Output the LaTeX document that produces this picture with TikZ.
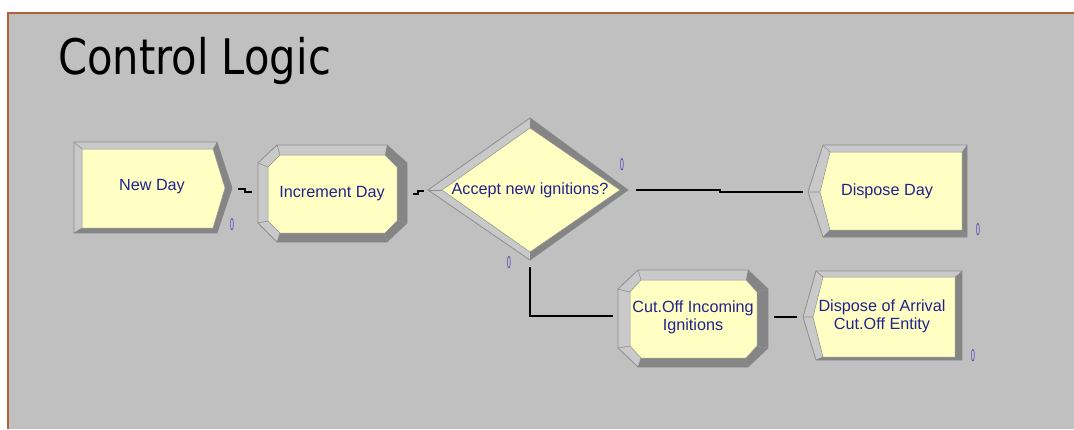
\documentclass[tikz,border=0pt]{standalone}
\usepackage{fontspec}
\setmainfont{Liberation Sans}
\newfontfamily\titlefont{DejaVu Sans}
\begin{document}
\definecolor{panel}{HTML}{C0C0C0}
\definecolor{frameline}{HTML}{B0603A}
\definecolor{face}{HTML}{FFFFC4}
\definecolor{bevdark}{HTML}{858585}
\definecolor{bevlight}{HTML}{C9C9C9}
\definecolor{bevline}{HTML}{8E8E8E}
\definecolor{labelblue}{HTML}{22228C}
\definecolor{countblue}{HTML}{4A3FB0}
\begin{tikzpicture}[x=1pt,y=-1pt,
  outer/.style={fill=bevlight,draw=bevline,line width=0.8pt,line join=miter},
  dark/.style={fill=bevdark},
  facefill/.style={fill=face,draw=bevline,line width=0.5pt},
  edge/.style={draw=bevline,line width=0.6pt},
  modtext/.style={text=labelblue,font=\fontsize{16.2}{18}\selectfont,align=center,inner sep=0pt},
  counter/.style={text=countblue,inner sep=0pt,font=\fontsize{17}{17}\selectfont},
  conn/.style={draw=black,line width=1.3pt}]
\useasboundingbox (0,0) rectangle (1074,429);
% panel
\fill[white] (0,0) rectangle (1074,429);
\fill[panel] (8,13) rectangle (1074,429);
\draw[frameline,line width=1.8pt] (8,429) -- (8,13) -- (1074,13);
\node[anchor=base west,inner sep=0pt,font=\titlefont\fontsize{49}{55}\selectfont] (title) at (58,74) {\scalebox{0.85}[1]{Control Logic}};

% ---- New Day (create) ----
\draw[outer] (74,142) -- (217,142) -- (232,188) -- (217,233) -- (74,233) -- cycle;
\fill[dark] (217,142) -- (232,188) -- (225,188) -- (213,149) -- cycle;
\fill[dark] (232,188) -- (217,233) -- (213,228) -- (225,188) -- cycle;
\fill[dark] (217,233) -- (74,233) -- (82,228) -- (213,228) -- cycle;
\draw[facefill] (82,149) -- (213,149) -- (225,188) -- (213,228) -- (82,228) -- cycle;
\draw[edge] (74,142) -- (82,149) (74,233) -- (82,228);
\node[modtext] (newday) at (152,187) {New Day};
\node[counter] (newday-n) at (232,225) {\scalebox{0.4}[1]{0}};
\coordinate (newday-exit) at (238,189);

% ---- Increment Day (assign) ----
\draw[outer] (277,145) -- (387,145) -- (407,163) -- (407,223) -- (387,242) -- (277,242) -- (258,223) -- (258,163) -- cycle;
\fill[dark] (387,145) -- (407,163) -- (397,167) -- (385,155) -- cycle;
\fill[dark] (407,163) -- (407,223) -- (397,221) -- (397,167) -- cycle;
\fill[dark] (407,223) -- (387,242) -- (385,233) -- (397,221) -- cycle;
\fill[dark] (387,242) -- (277,242) -- (280,233) -- (385,233) -- cycle;
\draw[facefill] (280,155) -- (385,155) -- (397,167) -- (397,221) -- (385,233) -- (280,233) -- (268,221) -- (268,167) -- cycle;
\draw[edge] (277,145) -- (280,155) (258,163) -- (268,167) (258,223) -- (268,221) (277,242) -- (280,233);
\node[modtext] (incr) at (332,194) {Increment Day};
\coordinate (incr-entry) at (252,192);
\coordinate (incr-exit) at (413,194);

% ---- Accept new ignitions? (decide) ----
\draw[outer] (428,190) -- (530,118) -- (628,190) -- (530,260) -- cycle;
\fill[dark] (530,118) -- (628,190) -- (620,190) -- (530,128) -- cycle;
\fill[dark] (628,190) -- (530,260) -- (530,252) -- (620,190) -- cycle;
\draw[facefill] (442,190) -- (530,128) -- (620,190) -- (530,252) -- cycle;
\draw[edge] (428,190) -- (442,190);
\node[modtext] (decide) at (530,190) {Accept new ignitions?};
\node[counter] (decide-n1) at (622,165) {\scalebox{0.4}[1]{0}};
\node[counter] (decide-n2) at (509,263) {\scalebox{0.4}[1]{0}};
\coordinate (decide-entry) at (424,191);
\coordinate (decide-true) at (636,190);
\coordinate (decide-false) at (530,267);

% ---- Dispose Day ----
\draw[outer] (808,192) -- (823,145) -- (967,145) -- (967,237) -- (823,237) -- cycle;
\fill[dark] (967,145) -- (967,237) -- (962,230) -- (962,152) -- cycle;
\fill[dark] (967,237) -- (823,237) -- (830,230) -- (962,230) -- cycle;
\draw[facefill] (820,192) -- (830,152) -- (962,152) -- (962,230) -- (830,230) -- cycle;
\draw[edge] (808,192) -- (820,192) (823,145) -- (830,152) (823,237) -- (830,230);
\node[modtext] (dispday) at (887,191) {Dispose Day};
\node[counter] (dispday-n) at (978,230) {\scalebox{0.4}[1]{0}};
\coordinate (dispday-entry) at (803,192);

% ---- Cut.Off Incoming Ignitions (assign) ----
\draw[outer] (638,270) -- (748,270) -- (768,289) -- (768,348) -- (748,367) -- (638,367) -- (618,348) -- (618,289) -- cycle;
\fill[dark] (748,270) -- (768,289) -- (757,292) -- (746,280) -- cycle;
\fill[dark] (768,289) -- (768,348) -- (757,346) -- (757,292) -- cycle;
\fill[dark] (768,348) -- (748,367) -- (746,358) -- (757,346) -- cycle;
\fill[dark] (748,367) -- (638,367) -- (641,358) -- (746,358) -- cycle;
\draw[facefill] (641,280) -- (746,280) -- (757,292) -- (757,346) -- (746,358) -- (641,358) -- (630,346) -- (630,292) -- cycle;
\draw[edge] (638,270) -- (641,280) (618,289) -- (630,292) (618,348) -- (630,346) (638,367) -- (641,358);
\node[modtext] (cutoff) at (693,317) {Cut.Off Incoming\\Ignitions};
\coordinate (cutoff-entry) at (613,316);
\coordinate (cutoff-exit) at (774,317);

% ---- Dispose of Arrival Cut.Off Entity ----
\draw[outer] (803,317) -- (816,271) -- (962,271) -- (962,360) -- (816,360) -- cycle;
\fill[dark] (962,271) -- (962,360) -- (955,357) -- (955,277) -- cycle;
\fill[dark] (962,360) -- (816,360) -- (823,357) -- (955,357) -- cycle;
\draw[facefill] (813,317) -- (823,277) -- (955,277) -- (955,357) -- (823,357) -- cycle;
\draw[edge] (803,317) -- (813,317) (816,271) -- (823,277) (816,360) -- (823,357);
\node[modtext] (disparr) at (882,316) {Dispose of Arrival\\Cut.Off Entity};
\node[counter] (disparr-n) at (973,356) {\scalebox{0.4}[1]{0}};
\coordinate (disparr-entry) at (797,317);

% ---- connectors ----
\draw[conn] (newday-exit) -- ++(7,0) |- (incr-entry);
\draw[conn] (incr-exit) -- ++(5,0) |- (decide-entry);
\draw[conn] (decide-true) -- ++(84,0) |- (dispday-entry);
\draw[conn] (decide-false) |- (cutoff-entry);
\draw[conn] (cutoff-exit) -- (disparr-entry);
\end{tikzpicture}
\end{document}
